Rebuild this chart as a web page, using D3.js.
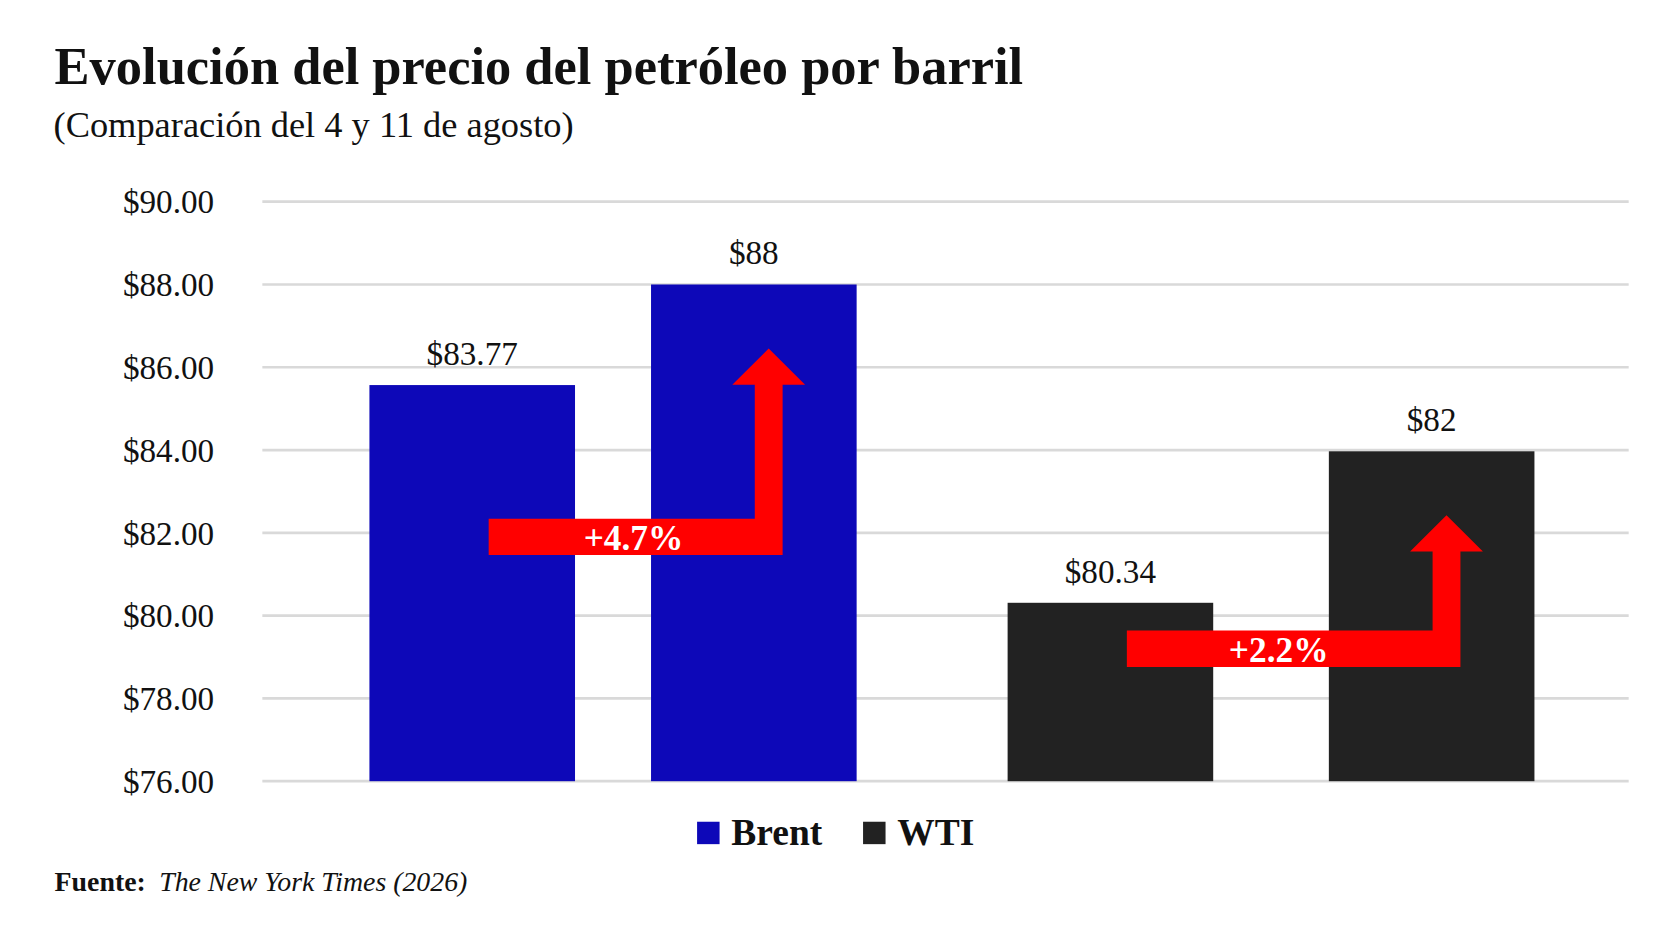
<!DOCTYPE html>
<html>
<head>
<meta charset="utf-8">
<script src="https://cdn.jsdelivr.net/npm/d3@7"></script>
<style>
  body { margin: 0; background: #fff; }
  text { font-family: "Liberation Serif", "DejaVu Serif", serif; }
</style>
</head>
<body>
<div id="chart"></div>
<script>
// Data
const categories = ["Brent 4 ago", "Brent 11 ago", "WTI 4 ago", "WTI 11 ago"];
const series = ["Brent", "Brent", "WTI", "WTI"];
const barValues = [85.57, 88.0, 80.31, 83.97];
const valueLabels = ["$83.77", "$88", "$80.34", "$82"];
const changeLabels = ["+4.7%", "+2.2%"];
const arrowLevels = [81.9, 79.2]; // centre of the horizontal arrow band
const ticks = [76, 78, 80, 82, 84, 86, 88, 90];
const colors = { Brent: "#0d08b8", WTI: "#222222" };

const W = 1568, H = 878;
const svg = d3.select("#chart").append("svg")
  .attr("width", 1679).attr("height", 937)
  .attr("viewBox", `0 0 ${W} ${H}`)
  .attr("preserveAspectRatio", "none");

svg.append("rect").attr("width", W).attr("height", H).attr("fill", "#fff");

// Titles
svg.append("text").attr("x", 51).attr("y", 79)
  .attr("font-size", 49).attr("font-weight", "bold").attr("fill", "#111")
  .text("Evolución del precio del petróleo por barril");
svg.append("text").attr("x", 50).attr("y", 128)
  .attr("font-size", 34).attr("fill", "#111")
  .text("(Comparación del 4 y 11 de agosto)");

const y = d3.scaleLinear().domain([76, 90]).range([732, 189]);
// bar left edges/widths per category (grouped layout)
const x = d3.scaleOrdinal().domain(categories).range([345, 608, 941, 1241]);
const bw = 192;

// Grid + ticks
const axis = svg.append("g");
axis.selectAll("line").data(ticks).enter().append("line")
  .attr("x1", 245).attr("x2", 1521)
  .attr("y1", d => y(d)).attr("y2", d => y(d))
  .attr("stroke", "#d9d9d9").attr("stroke-width", 2.5);
axis.selectAll("text").data(ticks).enter().append("text")
  .attr("x", 200).attr("y", d => y(d) + 11)
  .attr("text-anchor", "end").attr("font-size", 31).attr("fill", "#111")
  .text(d => "$" + d3.format(".2f")(d));

// Bars
svg.selectAll(".bar").data(categories).enter().append("rect")
  .attr("class", "bar")
  .attr("x", d => x(d)).attr("width", bw)
  .attr("y", (d, i) => y(barValues[i]))
  .attr("height", (d, i) => y(76) - y(barValues[i]))
  .attr("fill", (d, i) => colors[series[i]]);

// Value labels
svg.selectAll(".vlab").data(categories).enter().append("text")
  .attr("x", d => x(d) + bw / 2)
  .attr("y", (d, i) => y(barValues[i]) - 19)
  .attr("text-anchor", "middle").attr("font-size", 31).attr("fill", "#111")
  .text((d, i) => valueLabels[i]);

// Change arrows
[0, 1].forEach(k => {
  const from = categories[k * 2], to = categories[k * 2 + 1];
  const yc = y(arrowLevels[k]);
  const hb = 17;                       // half band thickness
  const xL = x(from) + bw * 0.58;
  const xR = x(to) + bw * 0.64;        // right edge of shaft
  const shaftW = 26;
  const top = y(barValues[k * 2 + 1]) + 94;
  const headTop = top - 34;
  const path = [
    [xL, yc - hb], [xR - shaftW, yc - hb], [xR - shaftW, top],
    [xR - shaftW - 21, top], [xR - shaftW / 2, headTop], [xR + 21, top],
    [xR, top], [xR, yc + hb], [xL, yc + hb]
  ];
  svg.append("path").attr("d", d3.line()(path) + "Z").attr("fill", "#ff0000");
  svg.append("text")
    .attr("x", (xL + xR) / 2 - (k ? 14 : 0) - (k ? 0 : 0) + (k ? 0 : -2) + (k ? 0 : 0) - (xR - xL) * 0.0)
    .attr("y", yc + 12)
    .attr("text-anchor", "middle").attr("font-size", 33).attr("font-weight", "bold")
    .attr("fill", "#fff").text(changeLabels[k]);
});

// Legend
const legend = [["Brent", 651], ["WTI", 806]];
legend.forEach(([name, lx]) => {
  svg.append("rect").attr("x", lx).attr("y", 770).attr("width", 21).attr("height", 21)
    .attr("fill", colors[name]);
  svg.append("text").attr("x", lx + 32).attr("y", 792)
    .attr("font-size", 35).attr("font-weight", "bold").attr("fill", "#111").text(name);
});

// Source
const src = svg.append("text").attr("x", 51).attr("y", 835).attr("font-size", 26).attr("fill", "#111");
src.append("tspan").attr("font-weight", "bold").text("Fuente: ");
src.append("tspan").attr("font-style", "italic").attr("dx", 6).text("The New York Times (2026)");
</script>
</body>
</html>
